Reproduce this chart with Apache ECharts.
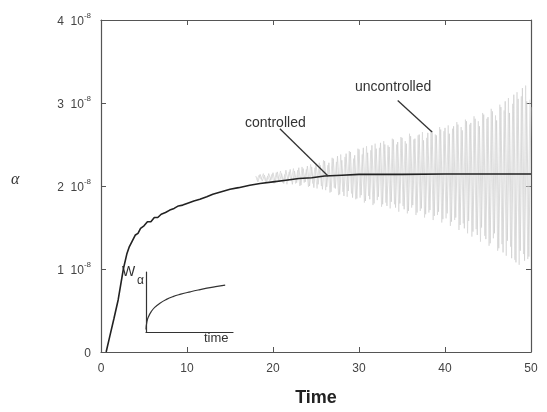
<!DOCTYPE html>
<html>
<head>
<meta charset="utf-8">
<script src="https://cdn.jsdelivr.net/npm/echarts@6/dist/echarts.min.js"></script>
<style>html,body{margin:0;padding:0;background:#fff}#c{width:547px;height:412px}</style>
</head>
<body>
<div id="c"></div>
<script>
// Units of the value axis: 1e-8
var xTicks = [0, 10, 20, 30, 40, 50];
var yTicks = [0, 1, 2, 3, 4];
var yExponent = '-8';

// controlled response
var controlledTime  = [0.6, 1.0, 1.5, 2.0, 2.6, 3.0, 3.3, 3.6, 4.0, 4.3, 4.6, 5.0, 5.4, 5.8, 6.2, 6.6, 7.0, 7.5, 8.0, 8.5, 9.0, 9.5, 10.0, 10.8, 11.5, 12.3, 13.0, 14.0, 15.0, 16.0, 17.3, 18.5, 20.0, 21.5, 23.0, 24.5, 26.0, 28.0, 30.0, 35.0, 40.0, 45.0, 50.0];
var controlledValue = [0.0, 0.18, 0.40, 0.63, 1.00, 1.18, 1.27, 1.33, 1.41, 1.43, 1.49, 1.52, 1.57, 1.57, 1.62, 1.62, 1.66, 1.68, 1.71, 1.73, 1.76, 1.77, 1.79, 1.82, 1.84, 1.87, 1.90, 1.93, 1.96, 1.98, 2.01, 2.03, 2.05, 2.07, 2.09, 2.10, 2.12, 2.13, 2.14, 2.14, 2.145, 2.145, 2.145];

// uncontrolled response (oscillating), two interleaved sample sets every 0.25
var uncontrolledStartA = 18;
var uncontrolledStartB = 18.125;
var uncontrolledStep = 0.25;
var uncontrolledValueA = [
 2.12,2.05,2.14,2.06,2.13,2.04,2.15,2.07,
 2.16,2.04,2.17,2.05,2.15,2.03,2.19,2.06,
 2.20,2.02,2.18,2.04,2.22,2.01,2.21,2.05,
 2.24,2.00,2.23,1.98,2.27,2.02,2.25,1.96,
 2.30,1.99,2.28,1.93,2.33,1.97,2.36,1.90,
 2.31,1.88,2.39,1.94,2.41,1.86,2.37,1.85,
 2.44,1.89,2.46,1.82,2.40,1.84,2.49,1.79,
 2.45,1.87,2.52,1.78,2.50,1.76,2.47,1.81,
 2.56,1.74,2.53,1.79,2.58,1.72,2.51,1.70,
 2.60,1.77,2.57,1.68,2.62,1.73,2.55,1.66,
 2.64,1.71,2.66,1.64,2.61,1.69,2.68,1.60,
 2.70,1.67,2.63,1.57,2.72,1.62,2.74,1.53,
 2.67,1.49,2.78,1.58,2.76,1.45,2.81,1.41,
 2.72,1.50,2.86,1.36,2.83,1.31,2.90,1.43,
 2.79,1.25,2.95,1.20,3.02,1.34,2.88,1.13,
 3.10,1.08,3.05,1.22,3.18,1.10,3.02,1.15,
 2.95
];
var uncontrolledValueB = [
 2.07,2.13,2.08,2.15,2.05,2.12,2.06,2.14,
 2.03,2.16,2.07,2.18,2.04,2.14,2.02,2.17,
 2.06,2.21,2.03,2.19,2.00,2.23,2.04,2.20,
 1.99,2.26,2.03,2.22,1.97,2.28,2.00,2.31,
 1.95,2.25,1.92,2.34,1.98,2.29,1.89,2.38,
 1.93,2.35,1.87,2.42,1.91,2.33,1.84,2.45,
 1.86,2.38,1.80,2.48,1.88,2.43,1.77,2.51,
 1.83,2.46,1.75,2.54,1.80,2.49,1.73,2.57,
 1.78,2.50,1.69,2.59,1.76,2.54,1.67,2.63,
 1.74,2.56,1.65,2.61,1.70,2.65,1.62,2.58,
 1.68,2.67,1.59,2.62,1.65,2.71,1.56,2.66,
 1.61,2.73,1.52,2.69,1.59,2.77,1.47,2.71,
 1.55,2.80,1.43,2.74,1.39,2.84,1.48,2.78,
 1.33,2.88,1.40,2.81,1.28,2.93,1.37,2.85,
 1.22,2.98,1.30,2.91,1.16,3.06,1.27,2.99,
 1.11,3.13,1.05,3.08,1.18,3.21,1.12,3.04
];

// inset sketch (W_alpha vs time), normalised units
var insetTime  = [0.0, 0.01, 0.03, 0.06, 0.10, 0.16, 0.23, 0.31, 0.40, 0.51, 0.60, 0.70, 0.80, 0.91];
var insetValue = [0.04, 0.17, 0.26, 0.34, 0.41, 0.48, 0.54, 0.59, 0.63, 0.67, 0.70, 0.73, 0.755, 0.78];

// annotation leader lines [start, end] in data units
var leaderControlled   = [[20.8, 2.69], [26.4, 2.12]];
var leaderUncontrolled = [[34.5, 3.03], [38.5, 2.65]];

var controlledData = controlledTime.map(function (t, i) { return [t, controlledValue[i]]; });
var uncontrolledDataA = uncontrolledValueA.map(function (v, i) { return [uncontrolledStartA + i * uncontrolledStep, v]; });
var uncontrolledDataB = uncontrolledValueB.map(function (v, i) { return [uncontrolledStartB + i * uncontrolledStep, v]; });
var insetData = insetTime.map(function (t, i) { return [t, insetValue[i]]; });

var axisColor = '#555';
var textColor = '#444';
var font = 'Liberation Sans, Arial, sans-serif';

var chart = echarts.init(document.getElementById('c'), null, {renderer: 'canvas'});
chart.setOption({
  animation: false,
  backgroundColor: '#fff',
  grid: [
    {left: 101, top: 20, width: 430, height: 333},
    {left: 146, top: 272, width: 87, height: 60}
  ],
  xAxis: [
    {type: 'value', gridIndex: 0, min: 0, max: 50, interval: 10, position: 'bottom',
     axisLine: {onZero: false, lineStyle: {color: axisColor, width: 1.2}},
     axisTick: {inside: true, length: 5, lineStyle: {color: axisColor}},
     axisLabel: {color: textColor, fontSize: 12, fontFamily: font, margin: 11,
       formatter: function (v) { return xTicks.indexOf(v) >= 0 ? String(v) : ''; }},
     splitLine: {show: false},
     name: 'Time', nameLocation: 'middle', nameGap: 37,
     nameTextStyle: {color: '#222', fontSize: 18, fontWeight: 'bold', fontFamily: font}},
    {type: 'value', gridIndex: 0, min: 0, max: 50, interval: 10, position: 'top',
     axisLine: {onZero: false, lineStyle: {color: axisColor, width: 1.2}},
     axisTick: {inside: true, length: 5, lineStyle: {color: axisColor}},
     axisLabel: {show: false}, splitLine: {show: false}},
    {type: 'value', gridIndex: 1, min: 0, max: 1,
     axisLine: {onZero: false, lineStyle: {color: '#333', width: 1.2}},
     axisTick: {show: false}, axisLabel: {show: false}, splitLine: {show: false}}
  ],
  yAxis: [
    {type: 'value', gridIndex: 0, min: 0, max: 4, interval: 1, position: 'left',
     axisLine: {onZero: false, lineStyle: {color: axisColor, width: 1.2}},
     axisTick: {inside: true, length: 5, lineStyle: {color: axisColor}},
     axisLabel: {color: textColor, fontFamily: font, margin: 10,
       formatter: function (v) {
         if (yTicks.indexOf(v) < 0) return '';
         return v === 0 ? '{a|0}' : '{a|' + v + '  10}{b|' + yExponent + '}';
       },
       rich: {
         a: {fontSize: 12, color: textColor, fontFamily: font, lineHeight: 16, verticalAlign: 'bottom'},
         b: {fontSize: 8, color: textColor, fontFamily: font, lineHeight: 16, verticalAlign: 'top', padding: [0, 0, 4, 0]}
       }},
     splitLine: {show: false}},
    {type: 'value', gridIndex: 0, min: 0, max: 4, interval: 1, position: 'right',
     axisLine: {onZero: false, lineStyle: {color: axisColor, width: 1.2}},
     axisTick: {inside: true, length: 5, lineStyle: {color: axisColor}},
     axisLabel: {show: false}, splitLine: {show: false}},
    {type: 'value', gridIndex: 1, min: 0, max: 1,
     axisLine: {onZero: false, lineStyle: {color: '#333', width: 1.2}},
     axisTick: {show: false}, axisLabel: {show: false}, splitLine: {show: false}}
  ],
  series: [
    {type: 'line', name: 'uncontrolled', xAxisIndex: 0, yAxisIndex: 0, data: uncontrolledDataA,
     symbol: 'none', silent: true, lineStyle: {color: '#cdcdcd', width: 0.7}, z: 1},
    {type: 'line', name: 'uncontrolled2', xAxisIndex: 0, yAxisIndex: 0, data: uncontrolledDataB,
     symbol: 'none', silent: true, lineStyle: {color: '#d6d6d6', width: 0.7}, z: 1},
    {type: 'line', name: 'controlled', xAxisIndex: 0, yAxisIndex: 0, data: controlledData,
     symbol: 'none', silent: true, lineStyle: {color: '#222', width: 1.6}, z: 3,
     markLine: {silent: true, symbol: 'none', label: {show: false},
       lineStyle: {color: '#333', width: 1.3, type: 'solid'},
       data: [
         [{coord: leaderControlled[0]}, {coord: leaderControlled[1]}],
         [{coord: leaderUncontrolled[0]}, {coord: leaderUncontrolled[1]}]
       ]}},
    {type: 'line', name: 'inset', xAxisIndex: 2, yAxisIndex: 2, data: insetData,
     symbol: 'none', silent: true, smooth: true, lineStyle: {color: '#333', width: 1.2}}
  ],
  graphic: [
    {type: 'text', left: 11, top: 172, style: {text: 'α', fill: '#333', font: 'italic 16px Liberation Serif, serif'}},
    {type: 'text', left: 245, top: 116, style: {text: 'controlled', fill: '#333', font: '14px Liberation Sans, Arial, sans-serif'}},
    {type: 'text', left: 355, top: 80, style: {text: 'uncontrolled', fill: '#333', font: '14px Liberation Sans, Arial, sans-serif'}},
    {type: 'text', left: 122, top: 265, style: {text: 'W', fill: '#333', font: '14px Liberation Sans, Arial, sans-serif'}},
    {type: 'text', left: 137, top: 275, style: {text: 'α', fill: '#333', font: '12px Liberation Sans, Arial, sans-serif'}},
    {type: 'text', left: 204, top: 332, style: {text: 'time', fill: '#333', font: '13px Liberation Sans, Arial, sans-serif'}}
  ]
});
</script>
</body>
</html>
